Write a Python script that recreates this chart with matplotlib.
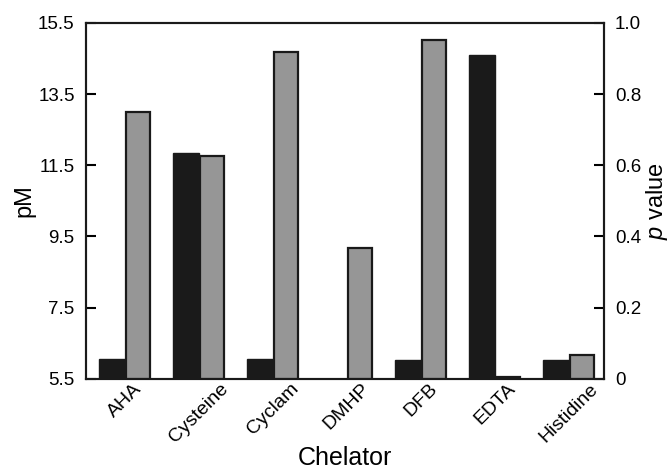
import numpy as np
import matplotlib.pyplot as plt

plt.rcParams['font.family'] = ['Liberation Sans', 'DejaVu Sans']
plt.rcParams['mathtext.fontset'] = 'custom'
plt.rcParams['mathtext.it'] = 'Liberation Sans:italic'
plt.rcParams['mathtext.rm'] = 'Liberation Sans'

chelators = ['AHA', 'Cysteine', 'Cyclam', 'DMHP', 'DFB', 'EDTA', 'Histidine']
pM = [6.05, 11.85, 6.07, np.nan, 6.03, 14.6, 6.03]
p_value = [0.75, 0.627, 0.919, 0.367, 0.952, 0.005, 0.067]

pm_ticks = [5.5, 7.5, 9.5, 11.5, 13.5, 15.5]
p_ticks = [0, 0.2, 0.4, 0.6, 0.8, 1.0]
p_labels = ['0', '0.2', '0.4', '0.6', '0.8', '1.0']

fig = plt.figure(figsize=(6.7, 4.76), dpi=100)
ax = fig.add_axes([0.128, 0.204, 0.773, 0.748])
ax2 = ax.twinx()

x = np.arange(len(chelators))
w = 0.35
ax.bar(x - w / 2 + 0.03, pM, w, color='#1a1a1a', edgecolor='#1a1a1a', linewidth=1.0)
ax2.bar(x + w / 2 + 0.03, p_value, w * 0.92, color='#969696', edgecolor='#1a1a1a', linewidth=1.6)

ax.set_xlim(-0.5, len(chelators) - 0.5)
ax.set_ylim(5.5, 15.5)
ax2.set_ylim(0, 1.0)
ax.set_yticks(pm_ticks)
ax.set_yticklabels([str(t) for t in pm_ticks])
ax2.set_yticks(p_ticks)
ax2.set_yticklabels(p_labels)

ax.set_xticks(x + 0.03)
ax.set_xticklabels(chelators, rotation=45, ha='center', fontsize=14)
ax.tick_params(axis='x', length=0, pad=1)
ax.tick_params(axis='y', direction='in', length=7, width=1.5, labelsize=13.5, pad=8)
ax2.tick_params(axis='y', direction='in', length=7, width=1.5, labelsize=13.5, pad=8)

for a in (ax, ax2):
    for s in a.spines.values():
        s.set_linewidth(1.5)
        s.set_color('#1a1a1a')

ax.set_xlabel('Chelator', fontsize=18, labelpad=0)
ax.set_ylabel('pM', fontsize=17, labelpad=2)
ax2.set_ylabel(r'$p$ value', fontsize=17, labelpad=2)

fig.savefig('out.png', dpi=100)
